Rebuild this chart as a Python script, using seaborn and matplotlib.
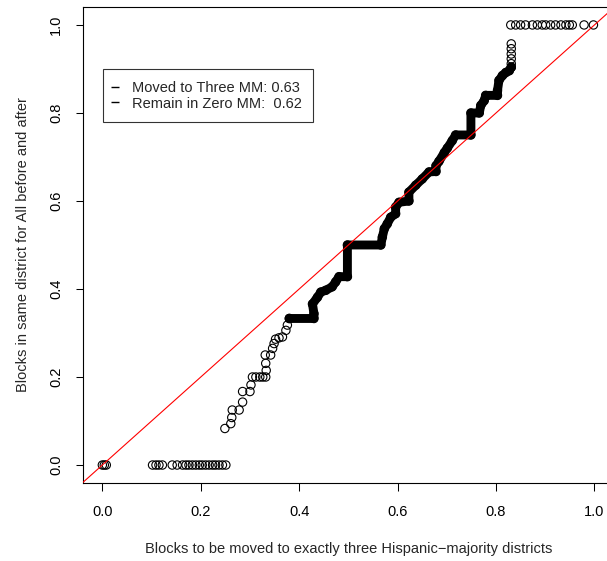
import matplotlib
matplotlib.use("Agg")
import matplotlib.pyplot as plt
from matplotlib.lines import Line2D
import seaborn as sns

# pontos isolados em y = 0
zero_x = [0.0, 0.004, 0.008, 0.102, 0.109, 0.115, 0.122, 0.142, 0.152, 0.163, 0.170,
          0.176, 0.183, 0.190, 0.197, 0.203, 0.210, 0.217, 0.224, 0.230, 0.237, 0.244, 0.251]
zero_y = [0.0] * len(zero_x)

# subida esparsa (canto inferior esquerdo)
rise_x = [0.249, 0.261, 0.263, 0.264, 0.278, 0.285, 0.285, 0.300, 0.302, 0.305, 0.312,
          0.320, 0.326, 0.332, 0.333, 0.332, 0.331, 0.342, 0.346, 0.349, 0.352, 0.359,
          0.366, 0.373, 0.376, 0.380]
rise_y = [0.083, 0.094, 0.108, 0.125, 0.125, 0.143, 0.167, 0.167, 0.182, 0.200, 0.200,
          0.200, 0.200, 0.200, 0.215, 0.231, 0.250, 0.250, 0.265, 0.276, 0.286, 0.289,
          0.291, 0.306, 0.318, 0.333]

# faixa densa (muitos pontos sobrepostos)
band_x = [0.380, 0.430, 0.430, 0.427, 0.437, 0.444, 0.454, 0.467, 0.474, 0.481, 0.498,
          0.498, 0.566, 0.569, 0.573, 0.579, 0.586, 0.596, 0.596, 0.603, 0.623, 0.623,
          0.637, 0.650, 0.664, 0.678, 0.678, 0.684, 0.695, 0.701, 0.711, 0.718, 0.749,
          0.749, 0.766, 0.769, 0.776, 0.779, 0.803, 0.803, 0.806, 0.813, 0.820, 0.827, 0.831]
band_y = [0.333, 0.333, 0.344, 0.366, 0.381, 0.393, 0.397, 0.405, 0.416, 0.428, 0.428,
          0.500, 0.500, 0.518, 0.537, 0.548, 0.563, 0.571, 0.586, 0.597, 0.600, 0.620,
          0.636, 0.650, 0.666, 0.667, 0.680, 0.690, 0.710, 0.720, 0.737, 0.750, 0.750,
          0.800, 0.800, 0.817, 0.828, 0.840, 0.840, 0.851, 0.874, 0.885, 0.892, 0.896, 0.904]

# topo
top_x = [0.831, 0.831, 0.831, 0.831, 0.831, 0.831,
         0.830, 0.840, 0.850, 0.860, 0.874, 0.884, 0.894, 0.901, 0.911, 0.921,
         0.932, 0.942, 0.949, 0.955, 0.979, 0.998]
top_y = [0.904, 0.912, 0.923, 0.934, 0.946, 0.957,
         1.0, 1.0, 1.0, 1.0, 1.0, 1.0, 1.0, 1.0, 1.0, 1.0,
         1.0, 1.0, 1.0, 1.0, 1.0, 1.0]

legend_labels = ["Moved to Three MM: 0.63", "Remain in Zero MM:  0.62"]
ticks = [0.0, 0.2, 0.4, 0.6, 0.8, 1.0]

sns.set_style("ticks")
plt.rcParams['font.family'] = ['Liberation Sans', 'DejaVu Sans']

fig = plt.figure(figsize=(6.07, 5.61), dpi=100)
ax = fig.add_axes([0.1362, 0.1397, 0.8755, 0.8472])

circ = dict(marker='o', s=36, facecolors='none', edgecolor='black', linewidth=0.8, zorder=3)
sns.lineplot(x=band_x, y=band_y, sort=False, estimator=None, color='black',
             linewidth=6.4, solid_capstyle='round', solid_joinstyle='round', ax=ax, zorder=2)
sns.scatterplot(x=band_x, y=band_y, ax=ax, **circ)
sns.scatterplot(x=zero_x, y=zero_y, ax=ax, **circ)
sns.scatterplot(x=rise_x, y=rise_y, ax=ax, **circ)
sns.scatterplot(x=top_x, y=top_y, ax=ax, **circ)

ax.axline((0, 0), slope=1, color='red', linewidth=0.8, zorder=5)

ax.set_xlim(-0.04, 1.04)
ax.set_ylim(-0.04, 1.04)
ax.set_xticks(ticks)
ax.set_yticks(ticks)
ax.set_xticklabels([f"{t:.1f}" for t in ticks])
ax.set_yticklabels([f"{t:.1f}" for t in ticks], rotation=90, va='center')
ax.tick_params(axis='both', direction='out', length=5.4, width=0.75, labelsize=10.5,
               colors='black')
ax.tick_params(axis='x', pad=10.5)
ax.tick_params(axis='y', pad=8.5)
for sp in ax.spines.values():
    sp.set_color('black')
    sp.set_linewidth(0.8)

ax.set_xlabel("Blocks to be moved to exactly three Hispanic\u2212majority districts",
              fontsize=10.5, va='center')
ax.xaxis.set_label_coords(0.5, -0.1395)
ax.set_ylabel("Blocks in same district for All before and after", fontsize=10.5,
              va='center')
ax.yaxis.set_label_coords(-0.113, 0.5)

handles = [Line2D([], [], marker='_', linestyle='None', color='black', markersize=6,
                  markeredgewidth=1.0) for _ in legend_labels]
leg = ax.legend(handles, legend_labels, loc='upper left', bbox_to_anchor=(0.0388, 0.8696),
                borderaxespad=0, fontsize=10.5, frameon=True, fancybox=False,
                handlelength=0.05, handletextpad=1.1, labelspacing=0.11, borderpad=0.8)
leg.get_frame().set_edgecolor('black')
leg.get_frame().set_linewidth(0.8)

fig.savefig("out.png", dpi=100)
